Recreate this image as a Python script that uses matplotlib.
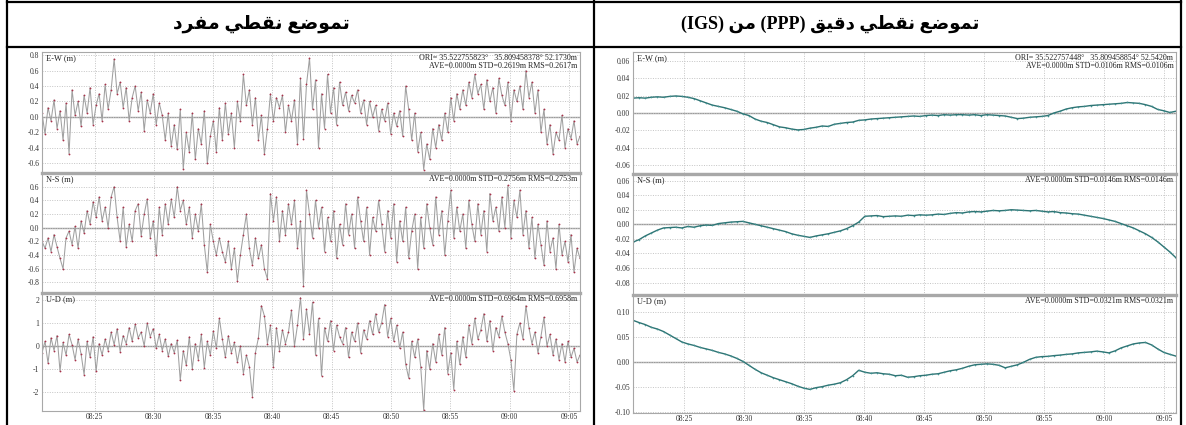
import numpy as np
import pandas as pd
import matplotlib
matplotlib.use('Agg')
import matplotlib.pyplot as plt
import matplotlib.dates as mdates
from matplotlib.lines import Line2D

# --- header texts (logical order, Arabic) ---
title_spp = 'تموضع نقطي مفرد'
title_ppp = 'تموضع نقطي دقيق (PPP) من (IGS)'

# --- epochs ---
spp_start, spp_end = '2000-01-01 08:20:34', '2000-01-01 09:05:56'
ppp_start, ppp_end = '2000-01-01 08:20:43', '2000-01-01 09:06:00'

# --- single point positioning residuals (m) ---
ew_spp = [0.05, -0.22, 0.12, -0.05, 0.22, -0.15, 0.08, -0.30, 0.18, -0.48, 0.35, 0.02, 0.20, -0.12, 0.28, 0.05, 0.38, -0.10, 0.15, 0.30,
          -0.05, 0.42, 0.10, 0.35, 0.75, 0.30, 0.45, 0.12, 0.38, -0.05, 0.25, 0.40, 0.08, 0.32, -0.18, 0.22, 0.05, 0.30, -0.10, 0.18,
          0.02, -0.30, 0.05, -0.38, -0.10, -0.42, 0.10, -0.67, -0.20, -0.45, 0.05, -0.55, -0.15, -0.35, 0.08, -0.60, -0.25, -0.05, -0.45, 0.12,
          -0.30, 0.18, -0.22, 0.05, -0.40, 0.20, -0.05, 0.55, 0.15, 0.35, -0.10, 0.25, -0.30, 0.02, -0.48, -0.15, 0.30, -0.05, 0.25, 0.12,
          0.28, -0.20, 0.15, -0.05, 0.22, -0.35, 0.50, -0.28, 0.42, 0.76, 0.10, 0.48, -0.40, 0.30, -0.15, 0.55, 0.05, 0.38, -0.10, 0.45,
          0.15, 0.32, 0.08, 0.28, 0.18, 0.35, 0.05, 0.22, -0.10, 0.20, 0.00, 0.15, -0.18, 0.10, -0.05, 0.18, -0.22, 0.05, -0.12, 0.08,
          -0.25, 0.40, 0.10, -0.30, 0.05, -0.45, -0.20, -0.68, -0.35, -0.55, -0.15, -0.40, -0.10, -0.30, 0.05, -0.20, 0.25, -0.05, 0.30, 0.10,
          0.35, 0.15, 0.45, 0.25, 0.55, 0.30, 0.42, 0.10, 0.48, 0.20, 0.38, 0.05, 0.50, 0.28, 0.15, 0.45, -0.05, 0.35, 0.20, 0.40,
          0.10, 0.60, 0.25, 0.45, 0.05, 0.35, -0.20, 0.10, -0.35, -0.10, -0.48, -0.20, -0.30, 0.02, -0.40, -0.15, -0.28, -0.05, -0.35, -0.25]
ns_spp = [-0.20, -0.30, -0.15, -0.35, -0.10, -0.28, -0.45, -0.60, -0.15, -0.05, -0.25, 0.02, -0.30, 0.10, -0.08, 0.25, 0.05, 0.38, 0.15, 0.45,
          0.10, 0.30, 0.00, 0.45, 0.60, 0.15, -0.20, 0.30, -0.28, 0.05, -0.20, 0.25, 0.35, -0.12, 0.20, 0.42, -0.15, 0.10, -0.40, 0.30,
          -0.10, 0.35, 0.05, 0.42, 0.15, 0.60, 0.25, 0.40, 0.05, 0.30, -0.15, 0.20, -0.05, 0.35, -0.25, -0.65, 0.05, -0.20, -0.40, -0.15,
          -0.35, -0.50, -0.20, -0.60, -0.30, -0.78, -0.40, -0.10, 0.20, -0.30, -0.55, -0.15, -0.45, -0.25, -0.60, -0.75, 0.50, 0.10, 0.45, -0.20,
          0.25, -0.10, 0.35, 0.05, 0.40, -0.30, 0.10, -0.85, 0.55, 0.20, -0.15, 0.40, 0.00, 0.30, -0.35, 0.15, -0.20, 0.25, -0.45, 0.05,
          -0.25, 0.35, -0.10, 0.20, -0.30, 0.45, 0.10, -0.20, 0.30, -0.40, 0.15, -0.05, 0.40, 0.05, -0.35, 0.25, -0.15, 0.35, -0.50, 0.10,
          -0.20, 0.30, -0.45, -0.05, 0.20, -0.60, 0.15, -0.30, 0.35, 0.00, -0.25, 0.45, -0.10, 0.25, -0.40, 0.10, 0.55, -0.15, 0.30, -0.05,
          0.20, -0.30, 0.40, 0.05, -0.20, 0.35, -0.10, 0.25, -0.35, 0.50, 0.10, 0.30, -0.05, 0.45, 0.00, 0.62, -0.15, 0.40, 0.15, 0.55,
          -0.10, 0.25, -0.30, 0.15, -0.45, 0.05, -0.25, -0.55, 0.10, -0.35, -0.15, -0.60, 0.05, -0.40, -0.20, -0.50, -0.10, -0.65, -0.30, -0.45]
ud_spp = [-0.30, 0.20, -0.75, 0.35, -0.20, 0.45, -1.10, 0.15, -0.40, 0.50, 0.05, -0.60, 0.30, -0.35, -1.25, 0.20, -0.50, 0.40, -1.10, 0.10,
          -0.40, 0.30, -0.20, 0.60, 0.05, 0.75, -0.25, 0.45, 0.10, 0.80, 0.20, 0.95, 0.35, 0.60, 0.00, 1.00, 0.40, 0.75, -0.10, 0.50,
          -0.20, 0.30, -0.45, 0.10, -0.30, 0.25, -1.50, -0.20, -0.85, 0.40, -1.00, 0.10, -0.60, 0.50, -0.95, 0.20, -0.40, 0.65, -0.10, 1.20,
          0.30, -0.50, 0.45, -0.30, 0.15, -0.70, 0.00, -1.20, -0.40, -0.90, -2.20, -0.30, 0.35, 1.75, 1.30, 0.10, 0.90, -0.90, 0.80, -0.20,
          0.70, 0.10, 0.60, 1.55, 0.00, 0.90, 2.10, 0.30, 1.60, 0.50, 1.90, -0.40, 1.20, -1.30, 0.80, 0.20, 1.10, -0.20, 0.90, 0.40,
          0.10, 0.80, -0.50, 0.60, 0.20, 1.00, -0.30, 0.70, 0.30, 1.10, 0.50, 1.40, 0.60, 1.00, 1.80, 0.40, 1.20, 0.20, 0.90, -0.10,
          0.60, -0.80, -1.40, 0.20, -0.50, 0.30, -0.90, -2.80, -0.20, -1.00, 0.10, -0.70, 0.50, -0.40, 0.80, -1.20, -0.30, -1.90, 0.20, -0.80,
          0.40, -0.50, 0.90, 0.10, 1.20, 0.30, 0.70, 1.40, 0.20, 1.10, -0.20, 0.80, 0.40, 1.30, 0.60, 0.10, -0.60, -1.95, 0.50, 1.00,
          0.30, 1.75, 0.80, 0.10, 0.60, -0.30, 0.40, 1.25, 0.00, 0.50, -0.40, 0.30, -0.60, 0.10, -0.70, 0.20, -0.50, -0.10, -0.70, -0.40]

# --- PPP (IGS products) residuals (m) ---
ew_ppp = [0.017, 0.0175, 0.017, 0.018, 0.0185, 0.018, 0.019, 0.0195, 0.019, 0.018,
          0.0165, 0.014, 0.0115, 0.009, 0.0075, 0.006, 0.004, 0.002, -0.001, -0.003,
          -0.007, -0.0095, -0.011, -0.0135, -0.016, -0.017, -0.0185, -0.0195, -0.019, -0.0175,
          -0.0165, -0.015, -0.0155, -0.013, -0.012, -0.011, -0.0105, -0.0085, -0.008, -0.007,
          -0.0065, -0.006, -0.0055, -0.005, -0.0045, -0.004, -0.0035, -0.004, -0.003, -0.0025,
          -0.003, -0.002, -0.0025, -0.002, -0.002, -0.0025, -0.002, -0.003, -0.002, -0.0025,
          -0.003, -0.0035, -0.005, -0.0065, -0.006, -0.005, -0.0045, -0.004, -0.003, 0.000,
          0.002, 0.0045, 0.006, 0.007, 0.0075, 0.0085, 0.009, 0.0095, 0.010, 0.0105,
          0.011, 0.012, 0.0115, 0.011, 0.0095, 0.0075, 0.004, 0.0025, 0.0005, 0.002]
ns_ppp = [-0.0245, -0.021, -0.016, -0.012, -0.008, -0.005, -0.0045, -0.004, -0.005, -0.003,
          -0.004, -0.002, -0.001, -0.0015, 0.001, 0.002, 0.003, 0.0035, 0.004, 0.002,
          0.000, -0.002, -0.004, -0.006, -0.008, -0.010, -0.013, -0.015, -0.0165, -0.018,
          -0.016, -0.0145, -0.013, -0.011, -0.009, -0.006, -0.002, 0.003, 0.011, 0.0115,
          0.012, 0.0105, 0.011, 0.0115, 0.011, 0.0125, 0.012, 0.013, 0.0125, 0.013,
          0.014, 0.0135, 0.015, 0.016, 0.0155, 0.017, 0.0175, 0.017, 0.018, 0.019,
          0.0185, 0.019, 0.020, 0.0195, 0.019, 0.0185, 0.019, 0.018, 0.017, 0.0175,
          0.016, 0.0155, 0.0145, 0.014, 0.0125, 0.011, 0.0095, 0.008, 0.006, 0.004,
          0.001, -0.002, -0.005, -0.009, -0.013, -0.018, -0.024, -0.031, -0.038, -0.046]
ud_ppp = [0.0835, 0.079, 0.075, 0.0695, 0.066, 0.061, 0.054, 0.047, 0.040, 0.036,
          0.033, 0.029, 0.026, 0.023, 0.019, 0.016, 0.012, 0.007, 0.001, -0.007,
          -0.015, -0.022, -0.027, -0.032, -0.036, -0.040, -0.044, -0.049, -0.053, -0.0555,
          -0.052, -0.050, -0.047, -0.045, -0.042, -0.036, -0.028, -0.017, -0.021, -0.023,
          -0.022, -0.024, -0.025, -0.028, -0.027, -0.031, -0.030, -0.028, -0.027, -0.025,
          -0.024, -0.021, -0.018, -0.016, -0.013, -0.009, -0.006, -0.005, -0.004, -0.005,
          -0.007, -0.012, -0.009, -0.006, -0.001, 0.005, 0.009, 0.0105, 0.011, 0.0125,
          0.0135, 0.015, 0.016, 0.018, 0.019, 0.020, 0.0215, 0.020, 0.018, 0.022,
          0.028, 0.032, 0.036, 0.038, 0.039, 0.034, 0.026, 0.019, 0.015, 0.0115]

comp_labels = ['E-W (m)', 'N-S (m)', 'U-D (m)']
spp_ori = 'ORI= 35.522755823°   35.809458378° 52.1730m'
ppp_ori = 'ORI= 35.522757448°   35.809458854° 52.5420m'
spp_stats = ['AVE=0.0000m STD=0.2619m RMS=0.2617m',
             'AVE=0.0000m STD=0.2756m RMS=0.2753m',
             'AVE=0.0000m STD=0.6964m RMS=0.6958m']
ppp_stats = ['AVE=0.0000m STD=0.0106m RMS=0.0106m',
             'AVE=0.0000m STD=0.0146m RMS=0.0146m',
             'AVE=0.0000m STD=0.0321m RMS=0.0321m']
spp_ylim = [(-0.725, 0.84), (-0.955, 0.80), (-2.83, 2.30)]
ppp_ylim = [(-0.069, 0.070), (-0.097, 0.069), (-0.103, 0.1345)]
spp_ticks = [[-0.6, -0.4, -0.2, 0.0, 0.2, 0.4, 0.6, 0.8],
             [-0.8, -0.6, -0.4, -0.2, 0.0, 0.2, 0.4, 0.6],
             [-2, -1, 0, 1, 2]]
ppp_ticks = [[-0.06, -0.04, -0.02, 0.0, 0.02, 0.04, 0.06],
             [-0.08, -0.06, -0.04, -0.02, 0.0, 0.02, 0.04, 0.06],
             [-0.10, -0.05, 0.0, 0.05, 0.10]]
spp_fmt = ['%.1f', '%.1f', '%.0f']
ppp_fmt = ['%.2f', '%.2f', '%.2f']

# --- minimal Arabic shaping (matplotlib draws glyphs one by one, LTR) ---
FORMS = {
    'ت': ('\ufe95', '\ufe96', '\ufe97', '\ufe98'),
    'م': ('\ufee1', '\ufee2', '\ufee3', '\ufee4'),
    'و': ('\ufeed', '\ufeee', None, None),
    'ض': ('\ufebd', '\ufebe', '\ufebf', '\ufec0'),
    'ع': ('\ufec9', '\ufeca', '\ufecb', '\ufecc'),
    'ن': ('\ufee5', '\ufee6', '\ufee7', '\ufee8'),
    'ق': ('\ufed5', '\ufed6', '\ufed7', '\ufed8'),
    'ط': ('\ufec1', '\ufec2', '\ufec3', '\ufec4'),
    'ي': ('\ufef1', '\ufef2', '\ufef3', '\ufef4'),
    'ف': ('\ufed1', '\ufed2', '\ufed3', '\ufed4'),
    'ر': ('\ufead', '\ufeae', None, None),
    'د': ('\ufea9', '\ufeaa', None, None),
}


def shape_word(w):
    out = []
    for i, c in enumerate(w):
        f = FORMS[c]
        jp = i > 0 and FORMS[w[i - 1]][2] is not None
        jn = i + 1 < len(w) and f[2] is not None
        out.append(f[3] if jp and jn else f[1] if jp else f[2] if jn else f[0])
    return ''.join(reversed(out))


def rtl(text):
    words = [shape_word(w) if w[0] in FORMS else w for w in text.split(' ')]
    return ' '.join(reversed(words))


SERIF = ['Liberation Serif', 'DejaVu Serif']
GRID = '#c4c4c4'
SPINE = '#a8a8a8'

fig = plt.figure(figsize=(11.86, 4.25), dpi=100)
W, H = 1186.0, 425.0


def px_axes(x0, x1, y0, y1):
    return fig.add_axes([x0 / W, 1 - y1 / H, (x1 - x0) / W, (y1 - y0) / H])


def draw_column(x0, x1, rows, series, t0, t1, ylims, ticks, fmts, ori, stats, line_c, mark_c, lw, ms):
    for k, (y0, y1) in enumerate(rows):
        ax = px_axes(x0, x1, y0, y1)
        vals = series[k]
        t = pd.date_range(t0, t1, periods=len(vals))
        ax.axhline(0, color='#9a9a9a', lw=1.0, zorder=1)
        ax.plot(t, vals, color=line_c, lw=lw, zorder=2,
                marker='o', ms=ms, mfc=mark_c, mec=mark_c, mew=0)
        ax.set_xlim(t[0], t[-1])
        ax.set_ylim(*ylims[k])
        ax.set_yticks(ticks[k])
        ax.yaxis.set_major_formatter(plt.FormatStrFormatter(fmts[k]))
        ax.xaxis.set_major_locator(mdates.MinuteLocator(byminute=range(0, 60, 5)))
        ax.xaxis.set_major_formatter(mdates.DateFormatter('%H:%M'))
        ax.grid(True, color=GRID, ls=(0, (1, 1.5)), lw=0.7)
        ax.tick_params(length=0, pad=2, labelsize=5.5, labelcolor='#333333')
        ax.tick_params(axis='x', pad=1.5)
        for lab in ax.get_xticklabels() + ax.get_yticklabels():
            lab.set_family(SERIF)
        if k < len(rows) - 1:
            ax.tick_params(labelbottom=False)
        for sp in ax.spines.values():
            sp.set_color(SPINE)
            sp.set_linewidth(0.8)
        if k > 0:
            ax.spines['top'].set_linewidth(2.4)
        ax.text(0.008, 0.985, comp_labels[k], transform=ax.transAxes, ha='left', va='top',
                fontsize=6, family=SERIF, color='#222222')
        txt = stats[k] if k else ori + '\n' + stats[k]
        ax.text(0.995, 0.985, txt, transform=ax.transAxes, ha='right', va='top',
                fontsize=5.8, family=SERIF, color='#222222', linespacing=1.05)


draw_column(42, 580, [(52, 173), (173, 293), (293, 411)],
            [ew_spp, ns_spp, ud_spp], spp_start, spp_end, spp_ylim, spp_ticks, spp_fmt,
            spp_ori, spp_stats, '#a0a0a0', '#a8324a', 0.75, 1.3)
draw_column(633, 1176, [(52, 173), (174, 295), (295, 413)],
            [ew_ppp, ns_ppp, ud_ppp], ppp_start, ppp_end, ppp_ylim, ppp_ticks, ppp_fmt,
            ppp_ori, ppp_stats, '#2e7474', '#3f8f8f', 1.0, 1.2)

# --- table frame ---
def hline(y, xa, xb):
    fig.add_artist(Line2D([xa / W, xb / W], [1 - y / H, 1 - y / H], color='black', lw=1.6))


def vline(x, ya, yb):
    fig.add_artist(Line2D([x / W, x / W], [1 - ya / H, 1 - yb / H], color='black', lw=1.6))


hline(1.5, 7, 1181)
hline(47, 7, 1181)
vline(7, 1, 425)
vline(594, 1, 425)
vline(1181, 1, 425)

fig.text(261 / W, 1 - 24 / H, rtl(title_spp), ha='center', va='center', fontsize=13.5,
         fontweight='bold', family=['Liberation Serif', 'DejaVu Sans'])
fig.text(830 / W, 1 - 24 / H, rtl(title_ppp), ha='center', va='center', fontsize=13,
         fontweight='bold', family=['Liberation Serif', 'DejaVu Sans'])

fig.savefig('out.png', dpi=100)
